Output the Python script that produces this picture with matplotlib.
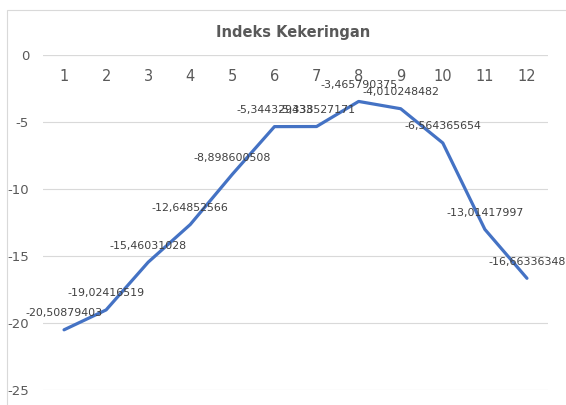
import matplotlib.pyplot as plt
from matplotlib.patches import Rectangle

months = list(range(1, 13))
values = [-20.50879403, -19.02416519, -15.46031028, -12.64852566, -8.898600508,
          -5.344329433, -5.338527171, -3.465790375, -4.010248482, -6.564365654,
          -13.01417997, -16.66336348]
y_ticks = [0, -5, -10, -15, -20, -25]
title = "Indeks Kekeringan"

fig = plt.figure(figsize=(5.66, 4.05), dpi=100)
ax = fig.add_axes([43 / 566, 1 - 390 / 405, (548 - 43) / 566, (390 - 55) / 405])

ax.plot(months, values, color="#4472C4", lw=2.3, solid_capstyle="round")
for m, v in zip(months, values):
    ax.annotate(f"{v:.10g}".replace(".", ","), (m, v), xytext=(0, 12),
                textcoords="offset points", ha="center", va="center",
                fontsize=7.9, color="#404040")

ax.set_xlim(0.5, 12.5)
ax.set_ylim(-25, 0)
ax.set_yticks(y_ticks)
ax.set_yticklabels([str(t) for t in y_ticks])
ax.set_xticks(months)
ax.set_xticklabels([str(m) for m in months])
ax.xaxis.set_ticks_position("top")
ax.tick_params(axis="x", length=0, labeltop=True, labelbottom=False, pad=-21,
               labelsize=10.5, labelcolor="#595959")
ax.tick_params(axis="y", length=0, pad=10, labelsize=9.5, labelcolor="#595959")
ax.grid(axis="y", color="#D9D9D9", lw=0.8)
ax.set_axisbelow(True)
for s in ax.spines.values():
    s.set_visible(False)
ax.axhline(0, color="#D9D9D9", lw=0.8, zorder=0)

fig.text(293 / 566, 1 - 32 / 405, title, ha="center", va="center",
         fontsize=10.5, fontweight="bold", color="#595959")
fig.patches.append(Rectangle((7 / 566, -0.1), 1.2, 1 - 10 / 405 + 0.1,
                             transform=fig.transFigure, fill=False,
                             edgecolor="#D9D9D9", lw=0.8))

fig.savefig("out.png", dpi=100)
